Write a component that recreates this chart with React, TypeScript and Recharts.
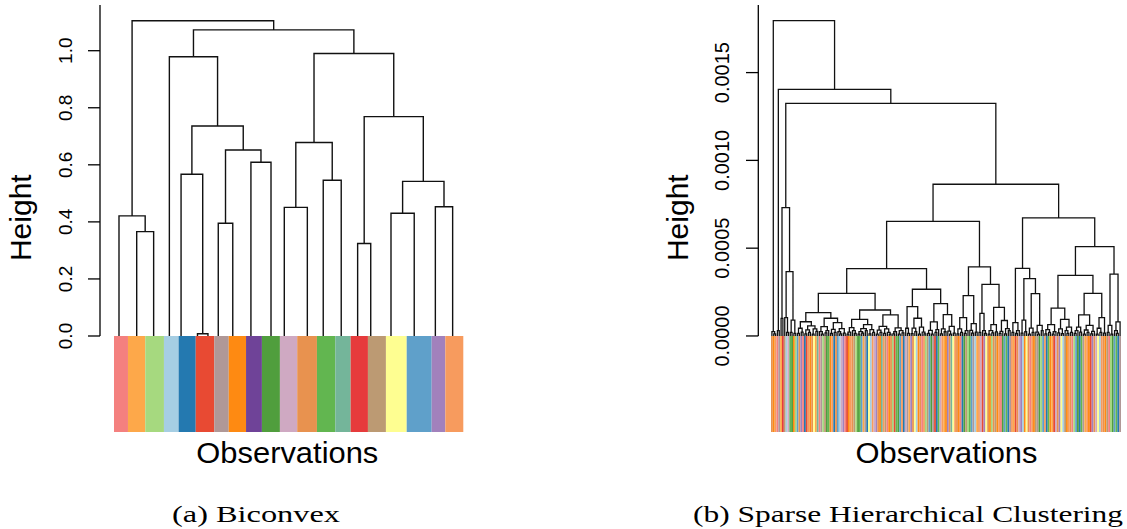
import { LineChart, Line, XAxis, YAxis, ReferenceArea, ReferenceLine } from 'recharts'

// ---------- (a) Biconvex: hclust-style merge matrix ----------
// leaf positions along the colour strip (strip i spans i-0.5 .. i+0.5)
const LEFT_LEAF_POS = [
  0.786, 1.8, 2.77, 3.67, 4.34, 5.28, 5.88, 6.47, 7.3, 8.34, 9.49,
  10.25, 11.57, 12.48, 13.51, 14.45, 15.2, 16.36, 17.69, 18.9, 19.89,
]

// [left, right, height]; negative = leaf, positive = earlier merge row
const LEFT_MERGES: Array<[number, number, number]> = [
  [-6, -7, 0.008],
  [-2, -3, 0.366],
  [-1, 2, 0.421],
  [-5, 1, 0.567],
  [-8, -9, 0.395],
  [-10, -11, 0.609],
  [5, 6, 0.652],
  [4, 7, 0.736],
  [-4, 8, 0.979],
  [-12, -13, 0.451],
  [-14, -15, 0.546],
  [10, 11, 0.678],
  [-16, -17, 0.324],
  [-18, -19, 0.43],
  [-20, -21, 0.453],
  [14, 15, 0.542],
  [13, 16, 0.769],
  [12, 17, 0.99],
  [9, 18, 1.073],
  [3, 19, 1.105],
]

const LEFT_STRIP_EDGES = [
  0.5, 1.3, 2.29, 3.36, 4.2, 5.18, 6.24, 7.07, 8.06, 8.97, 10.0,
  10.99, 12.12, 13.17, 14.05, 15.04, 16.07, 17.26, 18.69, 19.47, 20.5,
]

const PALETTE = [
  '#F4807F', '#FDA84A', '#A6D97F', '#A6CEE3', '#2479B0',
  '#E84A33', '#B09897', '#FE8A12', '#6F4398', '#509E3D',
  '#CFA9C2', '#E8924F', '#62B650', '#74B59A', '#E63B3C',
  '#BC9A73', '#FEFE91', '#5FA0CA', '#A281BC', '#F79B5E',
]

const LEFT_TICKS = [0, 0.2, 0.4, 0.6, 0.8, 1.0]

// ---------- (b) Sparse hierarchical clustering: nested tree ----------
// o = leaf, m(a, b, h) = merge at height h (units of 1e-5)
type Node = null | { a: Node; b: Node; h: number }
const o: Node = null
const m = (a: Node, b: Node, h: number): Node => ({ a, b, h })

const R_A = m(o, m(o, o, 1.2), 2.5)
const R_B = m(o, o, 3)
const R_C = m(m(o, o, 10), m(m(o, m(o, o, 2), 10.5), m(m(o, o, 2), m(o, o, 1.5), 9), 36.6), 73.1)
const R_P = m(
  m(m(m(o, o, 1.5), m(o, o, 2.2), 4.4), m(m(m(o, o, 1.2), m(o, o, 2), 3.5), m(m(o, o, 1), m(o, o, 2.6), 4), 5.7), 8.1),
  m(m(m(o, m(o, o, 1), 2.5), m(m(o, o, 1.8), o, 3), 5.3), m(m(m(o, o, 1.4), m(o, o, 2), 3.8), m(m(o, m(o, o, 1.2), 2.4), m(o, o, 1.6), 4.2), 7.6), 10.1),
  13.3,
)
const R_Q = m(
  m(m(m(m(o, o, 1), o, 2.2), m(o, m(o, o, 1.4), 3), 4.8), m(m(m(m(o, o, 1), m(o, o, 1.6), 2.5), m(o, o, 3), 4.2), m(m(o, o, 1.2), m(o, o, 2), 3.6), 6.4), 9.5),
  m(m(m(m(o, o, 1), m(o, o, 2), 3.3), m(m(o, o, 1.5), m(o, m(o, o, 1), 2), 4), 5.5), m(m(m(o, o, 1.2), o, 2.4), m(m(o, o, 1), m(o, o, 1.8), 3), 4.6), 12),
  14.8,
)
const R_S = m(m(o, m(o, o, 1.5), 4.4), m(m(m(o, o, 1.3), m(o, o, 2.5), 4.5), m(m(o, o, 1), m(o, m(o, o, 1.2), 2.2), 5), 10.1), 16.7)
const R_U = m(m(m(m(o, o, 1.5), m(o, o, 1), 3.2), m(m(o, o, 2), o, 3.6), 8), m(m(m(o, o, 1.2), m(o, o, 2.4), 4), m(m(o, m(o, o, 1), 2.8), m(o, o, 1.6), 5.5), 12.2), 18.4)
const R_V = m(m(m(m(o, o, 1.2), m(o, o, 2), 4), m(m(o, o, 1.5), o, 3), 10.5), m(m(o, m(o, o, 1.6), 3.2), m(o, o, 2.2), 7), 23)
const R_W = m(
  m(m(o, o, 2), m(o, m(o, o, 1.4), 3), 12.9),
  m(m(m(m(o, o, 1), m(o, o, 1.8), 3), m(o, o, 2.3), 6.5), m(m(m(o, o, 1.5), o, 2.6), m(m(o, o, 1.2), m(o, o, 3), 4.2), 8.8), 16.3),
  29.4,
)
const R_RL = m(
  m(m(o, o, 2), m(m(o, o, 1.4), o, 3), 7.6),
  m(m(m(o, o, 1.6), m(o, o, 2.4), 9), m(m(m(o, o, 1), m(o, o, 2), 4.5), m(m(o, m(o, o, 1), 2.2), m(o, o, 3), 6), 24.1), 32.7),
  38.5,
)
const R_RRA1 = m(
  m(m(m(o, o, 1.2), m(o, o, 2), 3.6), m(m(o, o, 1), o, 2.4), 6.5),
  m(m(m(o, o, 1.8), m(o, o, 1.3), 4), m(m(o, m(o, o, 1.5), 3), m(o, o, 2), 5), 9.4),
  15.8,
)
const R_RRA2 = m(
  m(m(m(m(o, o, 1.5), o, 3), m(o, o, 2.2), 5), m(m(m(o, o, 1), m(o, o, 2), 3.4), m(m(o, o, 1.2), o, 2.6), 6), 12),
  m(m(m(o, o, 1), m(o, o, 2), 4.4), m(o, o, 1.6), 10.5),
  24.3,
)
const R_RRB = m(m(m(o, o, 2), m(o, o, 1), 6), m(m(o, m(o, o, 1.5), 3), o, 8), 35.2)

const R_LL = m(m(R_P, R_Q, 24.3), m(R_S, R_U, 26.6), 38.3)
const R_L = m(R_LL, m(R_V, R_W, 39.3), 65.3)
const R_R = m(R_RL, m(m(R_RRA1, R_RRA2, 34.5), R_RRB, 50.9), 67.2)
const RIGHT_TREE = m(R_A, m(R_B, m(R_C, m(R_L, R_R, 86.4), 132.5), 140.5), 179.6)

// one palette letter (a..t) per observation, left to right
const RIGHT_STRIP =
  'lhtagbopdkmjhcrlsaef' +
  'thlqbnagcpjmhtelrdks' +
  'afhtlpcjmrbgeqdtkslh' +
  'ntpahlcfmjrtekgbslqd' +
  'hlatcprjgfemktbhslnq' +
  'tlhaejpcmrgdbtkfsqlh' +
  'clphtajrmegtbflksdhq' +
  'lathpgjcrtemhbfklsqd' +
  'phtlacrjemgbthfslkqd' +
  'tlhpacjrmegtfbhklsqa'

const RIGHT_TICKS = [0, 0.0005, 0.001, 0.0015]

// ---------- layout helpers ----------
type Pt = { x: number; y: number | null }

function mergeSegments(merges: Array<[number, number, number]>, leafPos: number[]) {
  const nodes: Array<{ x: number; y: number }> = []
  const pts: Pt[] = []
  const get = (id: number) => (id < 0 ? { x: leafPos[-id - 1], y: 0 } : nodes[id - 1])
  merges.forEach(([a, b, h]) => {
    const l = get(a)
    const r = get(b)
    pts.push({ x: l.x, y: l.y }, { x: l.x, y: h }, { x: r.x, y: h }, { x: r.x, y: r.y }, { x: r.x, y: null })
    nodes.push({ x: (l.x + r.x) / 2, y: h })
  })
  return pts
}

function treeSegments(root: Node) {
  const pts: Pt[] = []
  let n = 0
  const walk = (node: Node): { x: number; y: number } => {
    if (node === null) {
      n += 1
      return { x: n, y: 0 }
    }
    const l = walk(node.a)
    const r = walk(node.b)
    const y = node.h * 1e-5
    pts.push({ x: l.x, y: l.y }, { x: l.x, y }, { x: r.x, y }, { x: r.x, y: r.y }, { x: r.x, y: null })
    return { x: (l.x + r.x) / 2, y }
  }
  walk(root)
  return { pts, n }
}

const SANS = "'Liberation Sans', Arial, Helvetica, sans-serif"
const SERIF = "'Liberation Serif', 'Times New Roman', serif"

function RotatedTick(props: any) {
  const { x, y, payload, fontSize, digits } = props
  return (
    <text
      x={x}
      y={y}
      transform={`rotate(-90 ${x} ${y})`}
      textAnchor="middle"
      fontSize={fontSize}
      fontFamily={SANS}
      fill="#000"
    >
      {Number(payload.value).toFixed(digits)}
    </text>
  )
}

function LeftDendrogram() {
  const pts = mergeSegments(LEFT_MERGES, LEFT_LEAF_POS)
  const xDomain = [-0.3016, 20.5]
  const yDomain = [-0.3365, 1.1602]
  return (
    <LineChart width={480} height={440} margin={{ top: 5, right: 16.7, bottom: 8, left: 0 }}>
      <XAxis type="number" dataKey="x" domain={xDomain} allowDataOverflow hide />
      <YAxis
        type="number"
        domain={yDomain}
        allowDataOverflow
        ticks={LEFT_TICKS}
        width={100}
        axisLine={false}
        tickSize={12}
        tickMargin={16}
        tickLine={{ stroke: '#000', strokeWidth: 1.3 }}
        tick={(p: any) => <RotatedTick {...p} fontSize={19} digits={1} />}
      />
      {PALETTE.map((c, i) => (
        <ReferenceArea
          key={i}
          x1={LEFT_STRIP_EDGES[i]}
          x2={LEFT_STRIP_EDGES[i + 1]}
          y1={yDomain[0]}
          y2={0}
          fill={c}
          fillOpacity={1}
          stroke="none"
          ifOverflow="visible"
        />
      ))}
      <ReferenceLine
        segment={[{ x: xDomain[0], y: 0 }, { x: xDomain[0], y: yDomain[1] }]}
        stroke="#000"
        strokeWidth={1.3}
        ifOverflow="visible"
      />
      <Line
        data={pts}
        dataKey="y"
        type="linear"
        stroke="#111"
        strokeWidth={1.4}
        dot={false}
        activeDot={false}
        connectNulls={false}
        isAnimationActive={false}
      />
    </LineChart>
  )
}

function RightDendrogram() {
  const { pts, n } = treeSegments(RIGHT_TREE)
  const xDomain = [0.5 - (12.7 * n) / 350, n + 0.5]
  const yDomain = [-0.000547, 0.001885]
  const strip = RIGHT_STRIP.slice(0, n).split('')
  return (
    <LineChart width={487} height={440} margin={{ top: 5, right: 6, bottom: 8, left: 0 }}>
      <XAxis type="number" dataKey="x" domain={xDomain} allowDataOverflow hide />
      <YAxis
        type="number"
        domain={yDomain}
        allowDataOverflow
        ticks={RIGHT_TICKS}
        width={118.3}
        axisLine={false}
        tickSize={12.3}
        tickMargin={16.7}
        tickLine={{ stroke: '#000', strokeWidth: 1.3 }}
        tick={(p: any) => <RotatedTick {...p} fontSize={20} digits={4} />}
      />
      {strip.map((ch, i) => (
        <ReferenceArea
          key={i}
          x1={i + 0.5}
          x2={i + 1.5}
          y1={yDomain[0]}
          y2={0}
          fill={PALETTE[ch.charCodeAt(0) - 97]}
          fillOpacity={1}
          stroke="none"
          ifOverflow="visible"
        />
      ))}
      <ReferenceLine
        segment={[{ x: xDomain[0], y: 0 }, { x: xDomain[0], y: yDomain[1] }]}
        stroke="#000"
        strokeWidth={1.3}
        ifOverflow="visible"
      />
      <Line
        data={pts}
        dataKey="y"
        type="linear"
        stroke="#111"
        strokeWidth={1.3}
        dot={false}
        activeDot={false}
        connectNulls={false}
        isAnimationActive={false}
      />
    </LineChart>
  )
}

export default function App() {
  return (
    <div
      style={{
        position: 'absolute',
        left: 0,
        top: 0,
        width: 1127,
        height: 529,
        background: '#fff',
        overflow: 'hidden',
      }}
    >
      <div style={{ position: 'absolute', left: 0, top: 0 }}>
        <LeftDendrogram />
      </div>
      <div style={{ position: 'absolute', left: 640, top: 0 }}>
        <RightDendrogram />
      </div>
      <svg
        width={1127}
        height={529}
        style={{ position: 'absolute', left: 0, top: 0, pointerEvents: 'none' }}
      >
        <g fontFamily={SANS} fill="#000" fontSize={30}>
          <text x={31} y={217.7} transform="rotate(-90 31 217.7)" textAnchor="middle">
            Height
          </text>
          <text x={688} y={217.7} transform="rotate(-90 688 217.7)" textAnchor="middle">
            Height
          </text>
          <text x={287.3} y={463} textAnchor="middle" textLength={182} lengthAdjust="spacingAndGlyphs">
            Observations
          </text>
          <text x={946.5} y={463} textAnchor="middle" textLength={182} lengthAdjust="spacingAndGlyphs">
            Observations
          </text>
        </g>
        <g fontFamily={SERIF} fill="#000" fontSize={24}>
          <text x={256} y={522} textAnchor="middle" textLength={168} lengthAdjust="spacingAndGlyphs">
            (a) Biconvex
          </text>
          <text x={908} y={522} textAnchor="middle" textLength={430} lengthAdjust="spacingAndGlyphs">
            (b) Sparse Hierarchical Clustering
          </text>
        </g>
      </svg>
    </div>
  )
}
